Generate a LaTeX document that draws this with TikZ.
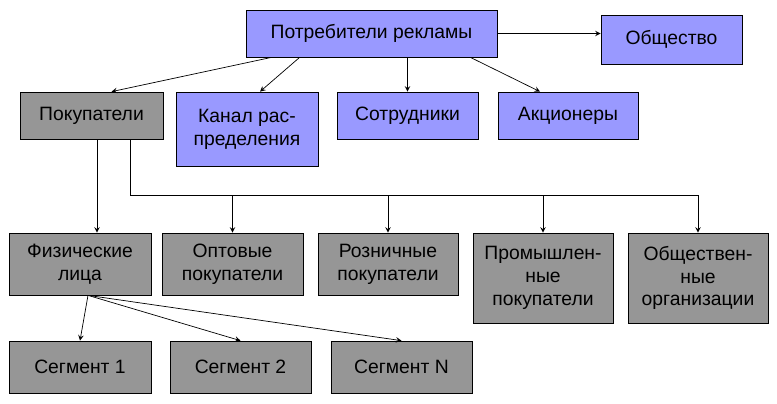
\documentclass[tikz,border=0pt]{standalone}
\usepackage{fontspec}
\setmainfont{Liberation Sans}
\usetikzlibrary{arrows, positioning, calc}
\definecolor{lav}{HTML}{9999FF}
\definecolor{grey}{HTML}{969696}

\begin{document}
\begin{tikzpicture}[
    x=0.02cm, y=-0.02cm,
    box/.style={rectangle, draw=black, fill=grey, font=\fontsize{11}{13}\selectfont, align=center, inner sep=1pt},
    blue box/.style={box, fill=lav},
    arrow/.style={->, >=stealth}
]
\useasboundingbox (0,0) rectangle (777,403);

% top level
\node[blue box, minimum width=251*0.02cm, minimum height=47*0.02cm] (consumers) at (371.5,33.5) {Потребители рекламы};
\node[blue box, minimum width=141*0.02cm, minimum height=49*0.02cm] (society) at (671.5,39.5) {Общество};

% second level
\node[box, minimum width=143*0.02cm, minimum height=47*0.02cm] (buyers) at (91.5,115.5) {Покупатели};
\node[blue box, minimum width=142*0.02cm, minimum height=74*0.02cm] (channel) at (247,129) {Канал  рас-\\пределения};
\node[blue box, minimum width=141*0.02cm, minimum height=47*0.02cm] (staff) at (407.5,115.5) {Сотрудники};
\node[blue box, minimum width=140*0.02cm, minimum height=47*0.02cm] (holders) at (568,115.5) {Акционеры};

% buyer groups
\node[box, minimum width=142*0.02cm, minimum height=62*0.02cm] (persons) at (80,264) {Физические\\лица};
\node[box, minimum width=141*0.02cm, minimum height=62*0.02cm] (wholesale) at (232.5,264) {Оптовые\\покупатели};
\node[box, minimum width=140*0.02cm, minimum height=62*0.02cm] (retail) at (388,264) {Розничные\\покупатели};
\node[box, minimum width=140*0.02cm, minimum height=90*0.02cm] (industry) at (543,278) {Промышлен-\\ные\\покупатели};
\node[box, minimum width=140*0.02cm, minimum height=90*0.02cm] (orgs) at (698,278) {Обществен-\\ные\\организации};

% segments
\node[box, minimum width=142*0.02cm, minimum height=52*0.02cm] (seg1) at (80,367) {Сегмент 1};
\node[box, minimum width=141*0.02cm, minimum height=52*0.02cm] (seg2) at (240.5,367) {Сегмент 2};
\node[box, minimum width=141*0.02cm, minimum height=52*0.02cm] (segN) at (401.5,367) {Сегмент N};

% connectors
\draw[arrow] (consumers.east) -- (society.west |- consumers.east);
\draw[arrow] ([xshift=26*0.02cm]consumers.south west) -- ([xshift=20*0.02cm]buyers.north);
\draw[arrow] ([xshift=54*0.02cm]consumers.south west) -- ([xshift=13*0.02cm]channel.north);
\draw[arrow] (consumers.south -| staff.north) -- (staff.north);
\draw[arrow] ([xshift=-27*0.02cm]consumers.south east) -- ([xshift=-28*0.02cm]holders.north);

\draw[arrow] (buyers.south -| persons.north) ++(17*0.02cm,0) coordinate (b1) -- (b1 |- persons.north);
\coordinate (bus) at ($(buyers.south)+(39*0.02cm,-56*0.02cm)$);
\draw (bus |- buyers.south) -- (bus) -- (bus -| orgs.north);
\foreach \t in {wholesale, retail, industry, orgs}
    \draw[arrow] (bus -| \t.north) -- (\t.north);

\coordinate (fork) at ($(persons.south)+(8*0.02cm,0)$);
\draw[arrow] (fork) -- (seg1.north);
\draw[arrow] (fork) -- (seg2.north);
\draw[arrow] (fork) -- (segN.north);
\end{tikzpicture}
\end{document}
